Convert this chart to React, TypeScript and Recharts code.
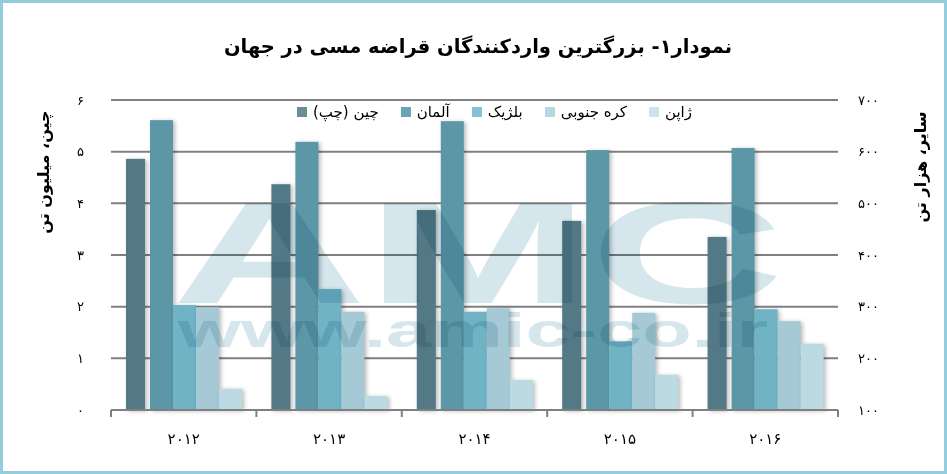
import React from 'react'
import { BarChart, Bar, XAxis, YAxis, CartesianGrid } from 'recharts'

const years = ['۲۰۱۲', '۲۰۱۳', '۲۰۱۴', '۲۰۱۵', '۲۰۱۶']
// China on the left axis (million tonnes), the others on the right (thousand tonnes)
const china = [4.86, 4.37, 3.87, 3.66, 3.35]
const germany = [661, 619, 659, 603, 607]
const belgium = [303, 334, 290, 233, 295]
const korea = [299, 290, 297, 288, 272]
const japan = [141, 127, 158, 168, 228]

const seriesNames = ['چین (چپ)', 'آلمان', 'بلژیک', 'کره جنوبی', 'ژاپن']

const leftTicks = [0, 1, 2, 3, 4, 5, 6]
const leftTickLabels = ['۰', '۱', '۲', '۳', '۴', '۵', '۶']
const rightTicks = [100, 200, 300, 400, 500, 600, 700]
const rightTickLabels = ['۱۰۰', '۲۰۰', '۳۰۰', '۴۰۰', '۵۰۰', '۶۰۰', '۷۰۰']

const title = 'نمودار۱- بزرگترین واردکنندگان قراضه مسی در جهان'
const leftTitle = 'چین، میلیون تن'
const rightTitle = 'سایر، هزار تن'

const data = years.map((year, i) => ({
  year,
  china: china[i],
  germany: germany[i],
  belgium: belgium[i],
  korea: korea[i],
  japan: japan[i],
}))

const barColors = ['#527985', '#5b97a7', '#6fb3c5', '#a5cad5', '#bcdae1']
const legendColors = ['#6a8e98', '#6aa5b5', '#82c2d3', '#b4d8e2', '#cae5eb']
const keys = ['china', 'germany', 'belgium', 'korea', 'japan']

const FONT = '"DejaVu Sans", sans-serif'
const GRID = '#808080'
const LABEL_GAP = 28

function ShadowBar(props: any) {
  const { x, y, width, height, fill, inset = 0 } = props
  if (!height || height <= 0) return null
  return (
    <rect
      x={x}
      y={y}
      width={width - inset}
      height={height}
      fill={fill}
      style={{ filter: 'drop-shadow(2px 1px 2px rgba(0,0,0,0.28))' }}
    />
  )
}

// year label plus the small marks on the category boundaries
function YearTick(props: any) {
  const { x, y, payload, index } = props
  const half = payload.offset || 0
  const base = y - LABEL_GAP
  const last = index === years.length - 1
  return (
    <g>
      <line x1={x - half} x2={x - half} y1={base} y2={base + 7} stroke={GRID} strokeWidth={2} />
      {last && (
        <line x1={x + half} x2={x + half} y1={base} y2={base + 7} stroke={GRID} strokeWidth={2} />
      )}
      <text x={x} y={y + 6} textAnchor="middle" fontFamily={FONT} fontSize={15} fill="#000">
        {payload.value}
      </text>
    </g>
  )
}

function LegendRow() {
  return (
    <div
      style={{
        position: 'absolute',
        left: 297,
        top: 103,
        display: 'flex',
        alignItems: 'center',
        fontFamily: FONT,
        fontSize: 15,
        color: '#000',
      }}
    >
      {seriesNames.map((name, i) => (
        <div key={name} style={{ display: 'flex', alignItems: 'center', marginRight: 22 }}>
          <span
            style={{ width: 10, height: 10, background: legendColors[i], marginRight: 6 }}
          />
          <span dir="rtl" style={{ unicodeBidi: 'isolate' }}>
            {name}
          </span>
        </div>
      ))}
    </div>
  )
}

const sideTitle: React.CSSProperties = {
  position: 'absolute',
  transform: 'translate(-50%, -50%) rotate(-90deg)',
  whiteSpace: 'nowrap',
  fontFamily: FONT,
  fontWeight: 'bold',
  fontSize: 16,
  color: '#000',
}

export default function App() {
  return (
    <div style={{ position: 'absolute', left: 0, top: 0, width: 947, height: 474, background: '#fff' }}>
      <div
        dir="rtl"
        style={{
          position: 'absolute',
          left: 0,
          top: 35,
          width: 956,
          textAlign: 'center',
          fontFamily: FONT,
          fontWeight: 'bold',
          fontSize: 19.5,
          color: '#000',
        }}
      >
        {title}
      </div>

      <BarChart
        width={947}
        height={474}
        data={data}
        barGap={0}
        margin={{ top: 100, right: 49, bottom: 14, left: 51 }}
        style={{ position: 'absolute', left: 0, top: 0 }}
      >
        <CartesianGrid
          xAxisId="cat"
          yAxisId="left"
          vertical={false}
          stroke={GRID}
          strokeWidth={2}
        />
        <XAxis
          xAxisId="cat"
          dataKey="year"
          height={50}
          axisLine={{ stroke: GRID, strokeWidth: 2 }}
          tickLine={false}
          tickSize={0}
          tickMargin={LABEL_GAP}
          tick={<YearTick />}
        />
        <YAxis
          yAxisId="left"
          domain={[0, 6]}
          ticks={leftTicks}
          width={60}
          axisLine={false}
          tickLine={false}
          tickSize={0}
          tickMargin={27}
          tickFormatter={(v: number) => leftTickLabels[leftTicks.indexOf(v)]}
          tick={{ fontFamily: FONT, fontSize: 13, fill: '#000' }}
        />
        <YAxis
          yAxisId="right"
          orientation="right"
          domain={[100, 700]}
          ticks={rightTicks}
          width={60}
          axisLine={false}
          tickLine={false}
          tickSize={0}
          tickMargin={20}
          tickFormatter={(v: number) => rightTickLabels[rightTicks.indexOf(v)]}
          tick={{ fontFamily: FONT, fontSize: 13, fill: '#000' }}
        />
        {keys.map((k, i) => (
          <Bar
            key={k}
            dataKey={k}
            name={seriesNames[i]}
            xAxisId="cat"
            yAxisId={i === 0 ? 'left' : 'right'}
            fill={barColors[i]}
            barSize={i === 0 ? 24 : 23}
            isAnimationActive={false}
            shape={(p: any) => <ShadowBar {...p} inset={i === 0 ? 5 : 0} />}
          />
        ))}
      </BarChart>

      <LegendRow />

      {/* watermark, multiplied over the bars */}
      <svg
        width={947}
        height={474}
        style={{ position: 'absolute', left: 0, top: 0, mixBlendMode: 'multiply', pointerEvents: 'none' }}
      >
        <text
          x={172}
          y={303}
          fontFamily='"Liberation Sans", sans-serif'
          fontWeight="bold"
          fontSize={145}
          fill="#d5e6ec"
          textLength={612}
          lengthAdjust="spacingAndGlyphs"
        >
          AMC
        </text>
        <text
          x={178}
          y={347}
          fontFamily='"Liberation Sans", sans-serif'
          fontWeight="bold"
          fontSize={48}
          fill="#d5e6ec"
          textLength={590}
          lengthAdjust="spacingAndGlyphs"
        >
          www.amic-co.ir
        </text>
      </svg>

      <div dir="rtl" style={{ ...sideTitle, left: 43, top: 172 }}>
        {leftTitle}
      </div>
      <div dir="rtl" style={{ ...sideTitle, left: 920, top: 167 }}>
        {rightTitle}
      </div>

      <div
        style={{
          position: 'absolute',
          left: 0,
          top: 0,
          width: 947,
          height: 474,
          boxSizing: 'border-box',
          border: '3px solid #93cddd',
          pointerEvents: 'none',
        }}
      />
    </div>
  )
}
